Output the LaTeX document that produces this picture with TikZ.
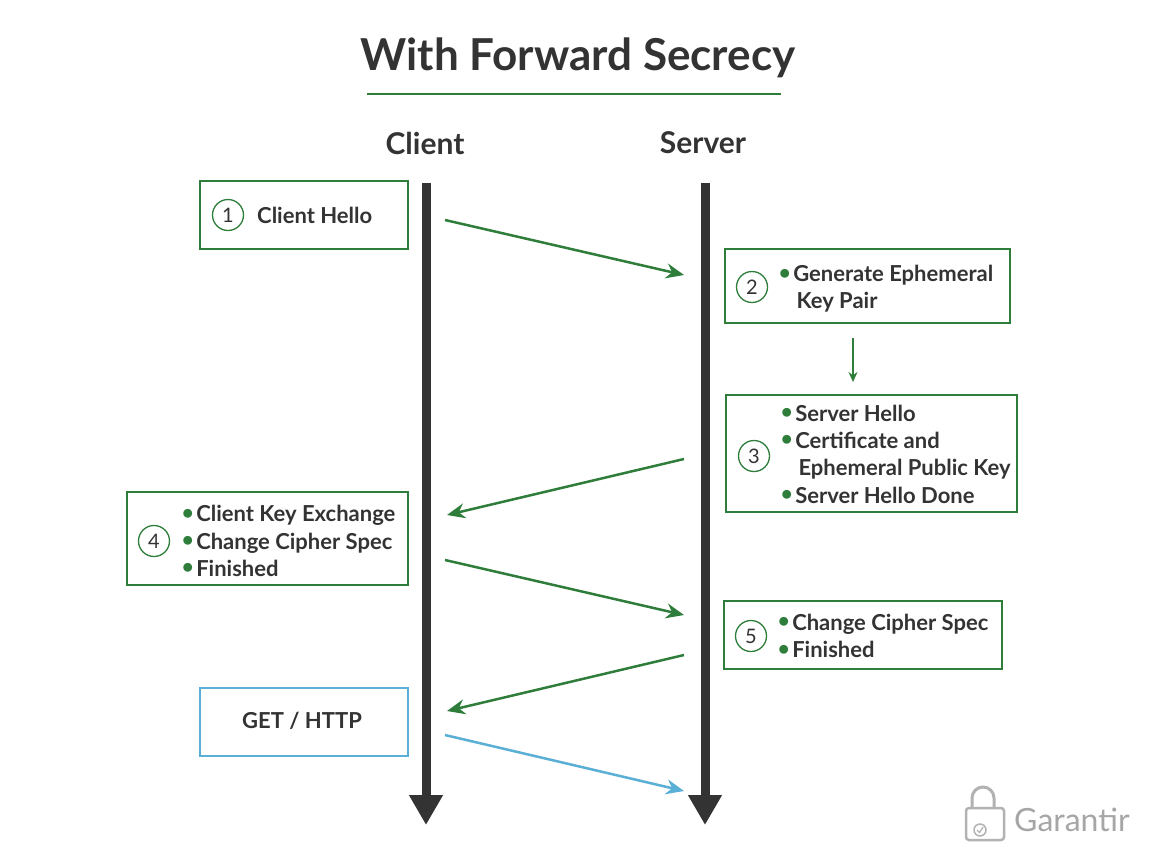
\documentclass[tikz,border=0pt]{standalone}
\usepackage{fontspec}
\setmainfont{Lato}
\usetikzlibrary{arrows.meta}
\definecolor{gr}{HTML}{2E7D3A}
\definecolor{bl}{HTML}{5AAFD6}
\definecolor{dk}{HTML}{333333}
\newcommand{\bu}{{\color{gr}\raisebox{0.12em}{\scalebox{1.1}{$\bullet$}}}\hspace{0.12em}}
\begin{document}
\begin{tikzpicture}[x=1pt,y=-1pt,
  box/.style={draw=gr,line width=2.5pt},
  num/.style={circle,draw=gr,line width=1.3pt,minimum size=31pt,inner sep=0pt,font=\fontsize{20}{22}\selectfont,text=dk},
  txt/.style={anchor=west,align=left,inner sep=0pt,font=\bfseries\fontsize{22}{27.3}\selectfont,text=dk},
  msg/.style={-{Stealth[length=18pt,width=15pt]},line width=2.5pt,draw=gr},
  life/.style={line width=9pt,draw=dk,-{Triangle[length=30pt,width=32pt]}}]
\useasboundingbox (0,0) rectangle (1159,860);
\node[font=\bfseries\fontsize{44}{46}\selectfont,text=dk] (title) at (578,58) {With Forward Secrecy};
\draw[gr,line width=2.5pt] (367,94) -- (781,94);
\node[font=\bfseries\fontsize{30}{32}\selectfont,text=dk] (cl) at (425,143) {Client};
\node[font=\bfseries\fontsize{30}{32}\selectfont,text=dk] (sv) at (703,143) {Server};
\coordinate (c0) at (426,183); \coordinate (c1) at (426,825);
\coordinate (s0) at (705,183); \coordinate (s1) at (705,825);
\draw[life] (c0) -- (c1);
\draw[life] (s0) -- (s1);
% box 1
\draw[box] (200,181) rectangle (408,249);
\node[num] (n1) at (228,215) {1};
\node[txt] (t1) at (257,215) {Client Hello};
% box 2
\draw[box] (725,249) rectangle (1010,323);
\node[num] (n2) at (752,287) {2};
\node[txt] (t2) at (779,289) {\bu Generate Ephemeral\\\hspace{0.79em}Key Pair};
% box 3
\draw[box] (726,395) rectangle (1017,512);
\node[num] (n3) at (754,456) {3};
\node[txt] (t3) at (781,454) {\bu Server Hello\\\bu Certificate and\\\hspace{0.79em}Ephemeral Public Key\\\bu Server Hello Done};
% box 4
\draw[box] (127,492) rectangle (408,585);
\node[num] (n4) at (154,541) {4};
\node[txt] (t4) at (182,541) {\bu Client Key Exchange\\\bu Change Cipher Spec\\\bu Finished};
% box 5
\draw[box] (724,601) rectangle (1002,669);
\node[num] (n5) at (751,636) {5};
\node[txt] (t5) at (778,636) {\bu Change Cipher Spec\\\bu Finished};
% GET
\draw[box,draw=bl] (200,688) rectangle (408,756);
\node[font=\bfseries\fontsize{22}{22}\selectfont,text=dk] (g) at (302,721) {GET / HTTP};
% arrows
\coordinate (a1) at (445,220); \coordinate (b1) at (684,275);
\coordinate (a2) at (853,338); \coordinate (b2) at (853,382);
\coordinate (a3) at (684,459); \coordinate (b3) at (447,515);
\coordinate (a4) at (445,560); \coordinate (b4) at (684,615);
\coordinate (a5) at (684,655); \coordinate (b5) at (447,711);
\coordinate (a6) at (445,735); \coordinate (b6) at (684,791);
\draw[msg] (a1) -- (b1);
\draw[gr,line width=1.5pt,-{Stealth[length=10pt,width=9pt]}] (a2) -- (b2);
\draw[msg] (a3) -- (b3);
\draw[msg] (a4) -- (b4);
\draw[msg] (a5) -- (b5);
\draw[msg,draw=bl] (a6) -- (b6);
% logo
\draw[gray!60,line width=3pt] (972,808) -- (972,798) arc[start angle=180,end angle=360,radius=11] -- (994,808);
\draw[gray!60,line width=2.5pt,rounded corners=3pt] (966,808) rectangle (1004,840);
\draw[gray!60,line width=1.5pt] (980,830) circle (6);
\draw[gray!60,line width=1.2pt] (977,830) -- (979.5,832.5) -- (983,827);
\node[anchor=west,inner sep=0pt,text=gray!70,font=\fontsize{32}{34}\selectfont] (logo) at (1014,820) {Garantir};
\end{tikzpicture}
\end{document}
